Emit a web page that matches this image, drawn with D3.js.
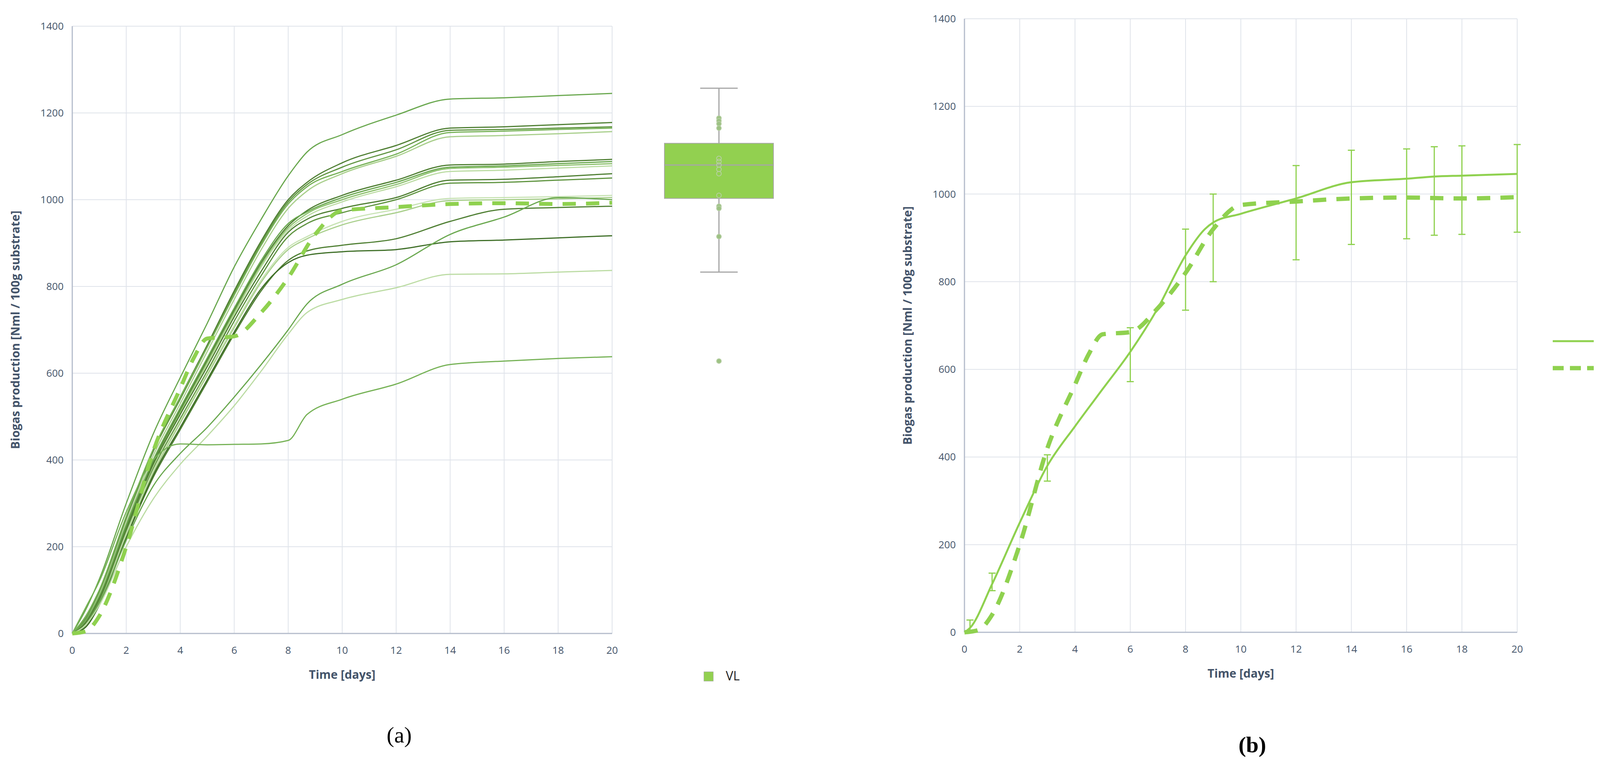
<!DOCTYPE html>
<html><head><meta charset="utf-8">
<script src="https://cdn.jsdelivr.net/npm/d3@7"></script>
<style>body{margin:0;background:#fff;overflow:hidden}text{font-family:"Open Sans",sans-serif}</style>
</head><body>
<svg id="chart" width="4194" height="1955"></svg>
<script>
// days sampled for panel (a) curves
var daysA = [0, 0.5, 1, 2, 3, 4, 5, 6, 7, 8, 8.7, 10, 12, 14, 16, 18, 20];
var seriesA = [
  {c:"#6aa84f", v:[0, 55, 125, 300, 460, 590, 715, 845, 955, 1055, 1110, 1150, 1195, 1232, 1235, 1240, 1245]},
  {c:"#4f7f33", v:[0, 30, 95, 265, 420, 545, 665, 790, 905, 1000, 1040, 1085, 1125, 1165, 1168, 1173, 1178]},
  {c:"#5f9440", v:[0, 35, 95, 265, 420, 540, 660, 785, 900, 995, 1035, 1075, 1115, 1160, 1162, 1165, 1168]},
  {c:"#76b256", v:[0, 40, 100, 270, 425, 545, 660, 780, 895, 990, 1030, 1065, 1105, 1155, 1158, 1162, 1165]},
  {c:"#a9cf8c", v:[0, 30, 90, 255, 410, 530, 650, 770, 885, 980, 1020, 1060, 1100, 1145, 1148, 1152, 1157]},
  {c:"#4f7f33", v:[0, 25, 80, 245, 395, 515, 630, 745, 855, 940, 975, 1010, 1045, 1080, 1082, 1088, 1093]},
  {c:"#6aa84f", v:[0, 30, 85, 250, 400, 520, 635, 750, 860, 945, 972, 1005, 1040, 1075, 1078, 1083, 1088]},
  {c:"#8bc06b", v:[0, 25, 80, 240, 390, 510, 625, 740, 850, 935, 968, 1000, 1035, 1072, 1075, 1079, 1083]},
  {c:"#bcdca4", v:[0, 20, 75, 235, 385, 505, 620, 735, 845, 930, 962, 995, 1030, 1065, 1068, 1073, 1078]},
  {c:"#4f7f33", v:[0, 25, 80, 240, 390, 505, 615, 730, 835, 925, 955, 980, 1005, 1045, 1047, 1053, 1060]},
  {c:"#5f9440", v:[0, 20, 75, 235, 380, 495, 605, 720, 825, 915, 945, 970, 1000, 1038, 1040, 1045, 1050]},
  {c:"#c8e3b4", v:[0, 20, 70, 230, 375, 490, 600, 710, 815, 890, 915, 950, 978, 1003, 1005, 1007, 1010]},
  {c:"#a9cf8c", v:[0, 20, 70, 225, 370, 485, 595, 705, 810, 885, 910, 942, 970, 998, 1000, 1002, 1005]},
  {c:"#4f7f33", v:[0, 15, 65, 220, 360, 470, 580, 690, 790, 860, 882, 895, 910, 950, 978, 982, 985]},
  {c:"#3f6f28", v:[0, 15, 65, 220, 365, 475, 585, 695, 795, 855, 872, 880, 885, 903, 907, 912, 917]},
  {c:"#6aa84f", v:[0, 20, 70, 215, 340, 415, 475, 545, 620, 700, 760, 805, 850, 920, 960, 1005, 1000]},
  {c:"#bcdca4", v:[0, 20, 65, 200, 310, 390, 455, 525, 605, 690, 740, 770, 797, 828, 829, 833, 837]},
  {c:"#76b256", v:[0, 60, 120, 280, 400, 437, 435, 436, 437, 445, 505, 540, 575, 620, 628, 634, 638]}
];
var daysV = [0, 0.5, 1, 2, 3, 4, 4.5, 5, 6, 7, 8, 9, 10, 12, 14, 16, 18, 20];
var valuesV = [0, 5, 40, 200, 420, 565, 635, 680, 685, 740, 820, 920, 975, 983, 990, 992, 990, 993];
// box summary of day-20 values
var boxStats = {min: 833, q1: 1003, median: 1080, q3: 1130, max: 1257};
var boxPoints = [1188, 1182, 1175, 1165, 1095, 1088, 1080, 1070, 1060, 1010, 985, 980, 915];
var boxOutliers = [628];

// panel (b)
var daysVL = [0, 0.2, 1, 2, 3, 4, 5, 6, 7, 8, 8.7, 9, 10, 12, 14, 16, 17, 18, 20];
var valuesVL = [0, 10, 110, 250, 380, 470, 555, 640, 740, 860, 920, 935, 955, 990, 1027, 1035, 1040, 1042, 1046];
var errDays = [0.2, 1, 3, 6, 8, 9, 12, 14, 16, 17, 18, 20];
var errLow = [0, 95, 345, 572, 735, 800, 850, 885, 898, 906, 908, 913];
var errHigh = [28, 135, 405, 695, 920, 1000, 1065, 1100, 1103, 1108, 1110, 1113];
var xTicks = d3.range(0, 21, 2);
var yTicks = d3.range(0, 1401, 200);

var svg = d3.select("#chart");
var axisCol = "#44546a", gridCol = "#dfe3ea", dashCol = "#8fd14f";

function frame(x0, x1, y0, y1) {
  var x = d3.scaleLinear().domain([0, 20]).range([x0, x1]);
  var y = d3.scaleLinear().domain([0, 1400]).range([y1, y0]);
  var g = svg.append("g");
  g.selectAll(".gy").data(yTicks).join("line")
      .attr("x1", x0).attr("x2", x1).attr("y1", y).attr("y2", y)
      .attr("stroke", gridCol).attr("stroke-width", 2);
  g.selectAll(".gx").data(xTicks).join("line")
      .attr("x1", x).attr("x2", x).attr("y1", y0).attr("y2", y1)
      .attr("stroke", gridCol).attr("stroke-width", 2);
  g.append("line").attr("x1", x0).attr("x2", x0).attr("y1", y0).attr("y2", y1).attr("stroke", "#b4bccb").attr("stroke-width", 3);
  g.append("line").attr("x1", x0).attr("x2", x1).attr("y1", y1).attr("y2", y1).attr("stroke", "#b4bccb").attr("stroke-width", 3);
  g.selectAll(".ty").data(yTicks).join("text")
      .attr("x", x0 - 22).attr("y", function(d) { return y(d) + 9; })
      .attr("text-anchor", "end").attr("font-size", 26).attr("fill", axisCol)
      .text(function(d) { return d; });
  g.selectAll(".tx").data(xTicks).join("text")
      .attr("x", x).attr("y", y1 + 52)
      .attr("text-anchor", "middle").attr("font-size", 26).attr("fill", axisCol)
      .text(function(d) { return d; });
  g.append("text").attr("x", (x0 + x1) / 2).attr("y", y1 + 116)
      .attr("text-anchor", "middle").attr("font-size", 30).attr("font-weight", "bold").attr("fill", axisCol)
      .text("Time [days]");
  g.append("text").attr("transform", "translate(" + (x0 - 135) + "," + ((y0 + y1) / 2) + ") rotate(-90)")
      .attr("text-anchor", "middle").attr("font-size", 30).attr("font-weight", "bold").attr("fill", axisCol)
      .text("Biogas production [Nml / 100g substrate]");
  return {x: x, y: y};
}

// ---- panel (a)
var a = frame(185, 1567, 67, 1621);
var lineA = d3.line().curve(d3.curveMonotoneX);
seriesA.forEach(function(s) {
  svg.append("path")
      .attr("d", lineA(daysA.map(function(d, i) { return [a.x(d), a.y(s.v[i])]; })))
      .attr("fill", "none").attr("stroke", s.c).attr("stroke-width", 3);
});
svg.append("path")
    .attr("d", lineA(daysV.map(function(d, i) { return [a.x(d), a.y(valuesV[i])]; })))
    .attr("fill", "none").attr("stroke", dashCol).attr("stroke-width", 10)
    .attr("stroke-dasharray", "34,26");

// box plot
var bx0 = 1701, bx1 = 1980, bc = (bx0 + bx1) / 2;
svg.append("line").attr("x1", bc).attr("x2", bc).attr("y1", a.y(boxStats.max)).attr("y2", a.y(boxStats.min)).attr("stroke", "#a6a6a6").attr("stroke-width", 3);
[boxStats.max, boxStats.min].forEach(function(v) {
  svg.append("line").attr("x1", bc - 48).attr("x2", bc + 48).attr("y1", a.y(v)).attr("y2", a.y(v)).attr("stroke", "#a6a6a6").attr("stroke-width", 3);
});
svg.append("rect").attr("x", bx0).attr("y", a.y(boxStats.q3)).attr("width", bx1 - bx0)
    .attr("height", a.y(boxStats.q1) - a.y(boxStats.q3)).attr("fill", "#92d050").attr("stroke", "#a6a6a6").attr("stroke-width", 2);
svg.append("line").attr("x1", bx0).attr("x2", bx1).attr("y1", a.y(boxStats.median)).attr("y2", a.y(boxStats.median)).attr("stroke", "#a6a6a6").attr("stroke-width", 3);
svg.selectAll(".bp").data(boxPoints.concat(boxOutliers)).join("circle")
    .attr("cx", bc).attr("cy", function(d) { return a.y(d); }).attr("r", 6)
    .attr("fill", function(d) { return d > boxStats.q1 && d < boxStats.q3 ? "none" : "#9dc283"; })
    .attr("stroke", "#b7cfa5").attr("stroke-width", 2);
svg.append("rect").attr("x", 1802).attr("y", 1719).attr("width", 24).attr("height", 24).attr("fill", "#92d050").attr("stroke", "#a6a6a6");
svg.append("text").attr("x", 1858).attr("y", 1741).attr("font-size", 32).attr("fill", "#222").text("VL");
svg.append("text").attr("x", 1022).attr("y", 1900).attr("text-anchor", "middle").attr("font-size", 58)
    .style("font-family", "Liberation Serif, serif").text("(a)");

// ---- panel (b)
var b = frame(2469, 3884, 48, 1618);
var solidCol = "#8fd14f";
svg.selectAll(".eb").data(errDays).join("g").each(function(d, i) {
  var g = d3.select(this), xx = b.x(d);
  g.append("line").attr("x1", xx).attr("x2", xx).attr("y1", b.y(errHigh[i])).attr("y2", b.y(errLow[i]));
  g.append("line").attr("x1", xx - 9).attr("x2", xx + 9).attr("y1", b.y(errHigh[i])).attr("y2", b.y(errHigh[i]));
  g.append("line").attr("x1", xx - 9).attr("x2", xx + 9).attr("y1", b.y(errLow[i])).attr("y2", b.y(errLow[i]));
  g.selectAll("line").attr("stroke", solidCol).attr("stroke-width", 3);
});
svg.append("path")
    .attr("d", lineA(daysVL.map(function(d, i) { return [b.x(d), b.y(valuesVL[i])]; })))
    .attr("fill", "none").attr("stroke", solidCol).attr("stroke-width", 5);
svg.append("path")
    .attr("d", lineA(daysV.map(function(d, i) { return [b.x(d), b.y(valuesV[i])]; })))
    .attr("fill", "none").attr("stroke", dashCol).attr("stroke-width", 11)
    .attr("stroke-dasharray", "34,26");
svg.append("line").attr("x1", 3975).attr("x2", 4080).attr("y1", 873).attr("y2", 873).attr("stroke", solidCol).attr("stroke-width", 5);
svg.append("line").attr("x1", 3975).attr("x2", 4080).attr("y1", 942).attr("y2", 942).attr("stroke", dashCol).attr("stroke-width", 11).attr("stroke-dasharray", "28,16");
svg.append("text").attr("x", 4120).attr("y", 884).attr("font-size", 30).attr("fill", "#222").text("VL");
svg.append("text").attr("x", 4120).attr("y", 953).attr("font-size", 30).attr("fill", "#222").text("V");
svg.append("text").attr("x", 3206).attr("y", 1925).attr("text-anchor", "middle").attr("font-size", 58)
    .style("font-family", "Liberation Serif, serif").attr("font-weight", "bold").text("(b)");
</script>
</body></html>
